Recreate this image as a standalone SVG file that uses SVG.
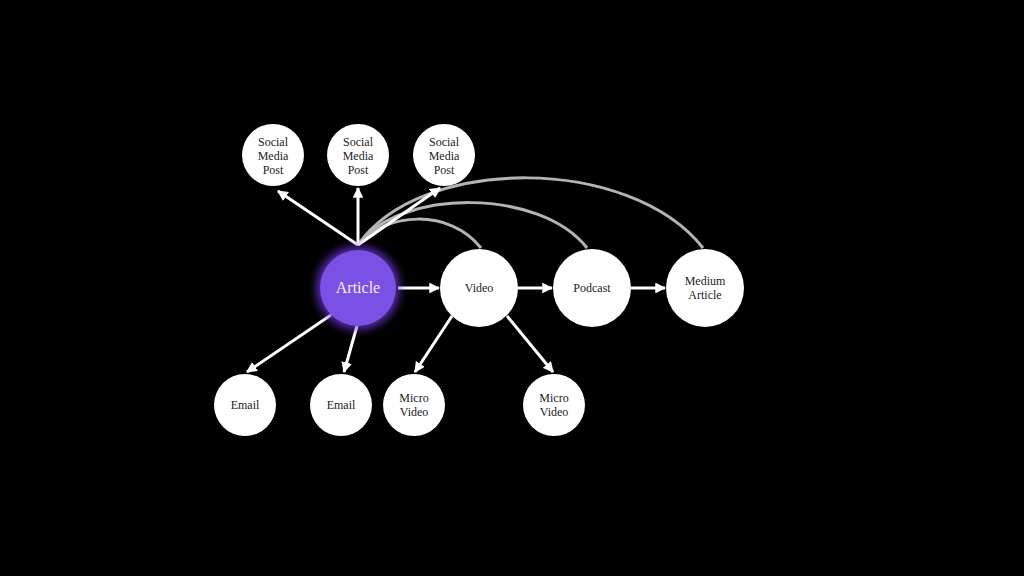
<svg xmlns="http://www.w3.org/2000/svg" width="1024" height="576" viewBox="0 0 1024 576">
<style>
.n{fill:#ffffff;}
.t{font-family:"Liberation Serif",serif;font-size:12px;fill:#222;text-anchor:middle;}
.a{stroke:#ffffff;stroke-width:3;fill:none;marker-end:url(#ah);}
.arc{stroke:#b4b4b4;stroke-width:3;fill:none;}
</style>
<defs>
<marker id="ah" viewBox="0 0 10 10" refX="9" refY="5" markerWidth="3.6" markerHeight="3.6" orient="auto" markerUnits="strokeWidth">
<path d="M0,0 L10,5 L0,10 z" fill="#ffffff"/>
</marker>
<filter id="glow" x="-50%" y="-50%" width="200%" height="200%">
<feGaussianBlur stdDeviation="4"/>
</filter>
</defs>
<rect width="1024" height="576" fill="#000"/>
<g id="connectors">
<path class="arc" d="M358,245 C385,212 450,208 481,248"/>
<path class="arc" d="M358,245 C400,188 540,188 587,248"/>
<path class="arc" d="M358,245 C420,155 630,155 703,248"/>
<line class="a" x1="358" y1="245" x2="278" y2="191"/>
<line class="a" x1="358" y1="245" x2="358" y2="188"/>
<line class="a" x1="358" y1="245" x2="440" y2="188"/>
<line class="a" x1="398" y1="288" x2="439" y2="288"/>
<line class="a" x1="518" y1="288" x2="552" y2="288"/>
<line class="a" x1="631" y1="288" x2="665" y2="288"/>
<line class="a" x1="331" y1="315" x2="247" y2="372"/>
<line class="a" x1="357" y1="326" x2="344" y2="372"/>
<line class="a" x1="452" y1="316" x2="415" y2="372"/>
<line class="a" x1="507" y1="316" x2="553" y2="372"/>
</g>
<g id="article">
<circle cx="358" cy="288" r="42" fill="#7a3cf0" opacity="0.7" filter="url(#glow)"/>
<circle cx="358" cy="288" r="38" fill="#7b50e4"/>
<text x="358" y="293" font-family="Liberation Serif, serif" font-size="16" fill="#f4efff" text-anchor="middle">Article</text>
</g>
<g id="smp1"><circle class="n" cx="273" cy="155" r="31"/><text class="t" x="273" y="146">Social</text><text class="t" x="273" y="160">Media</text><text class="t" x="273" y="174">Post</text></g>
<g id="smp2"><circle class="n" cx="358" cy="155" r="31"/><text class="t" x="358" y="146">Social</text><text class="t" x="358" y="160">Media</text><text class="t" x="358" y="174">Post</text></g>
<g id="smp3"><circle class="n" cx="444" cy="155" r="31"/><text class="t" x="444" y="146">Social</text><text class="t" x="444" y="160">Media</text><text class="t" x="444" y="174">Post</text></g>
<g id="video"><circle class="n" cx="479" cy="288" r="39"/><text class="t" x="479" y="292">Video</text></g>
<g id="podcast"><circle class="n" cx="592" cy="288" r="39"/><text class="t" x="592" y="292">Podcast</text></g>
<g id="medium"><circle class="n" cx="705" cy="288" r="39"/><text class="t" x="705" y="285">Medium</text><text class="t" x="705" y="299">Article</text></g>
<g id="email1"><circle class="n" cx="245" cy="405" r="31"/><text class="t" x="245" y="409">Email</text></g>
<g id="email2"><circle class="n" cx="341" cy="405" r="31"/><text class="t" x="341" y="409">Email</text></g>
<g id="micro1"><circle class="n" cx="414" cy="405" r="31"/><text class="t" x="414" y="402">Micro</text><text class="t" x="414" y="416">Video</text></g>
<g id="micro2"><circle class="n" cx="554" cy="405" r="31"/><text class="t" x="554" y="402">Micro</text><text class="t" x="554" y="416">Video</text></g>
</svg>
